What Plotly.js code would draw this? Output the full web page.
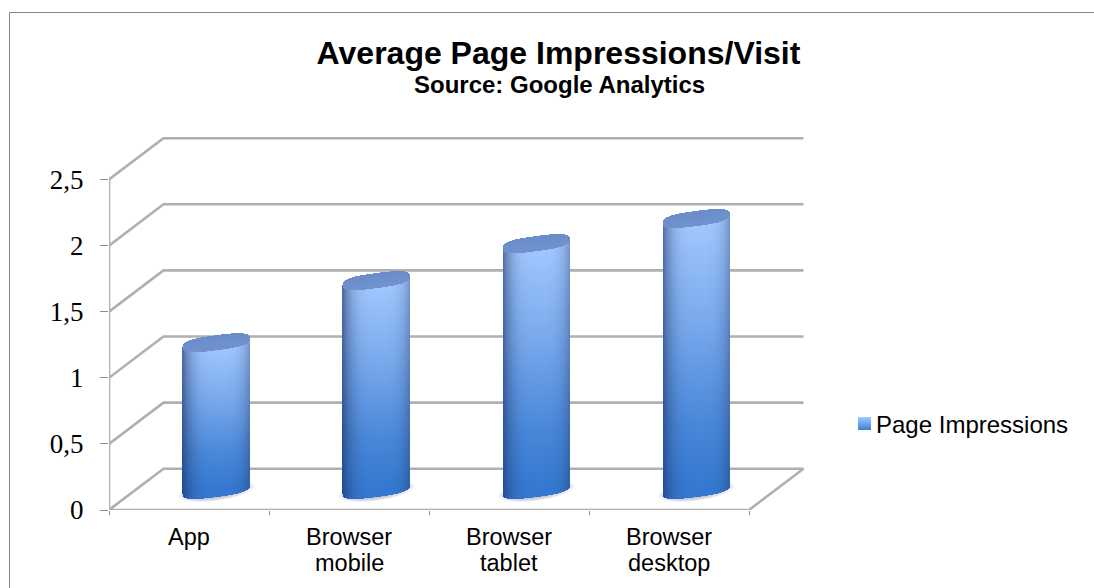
<!DOCTYPE html>
<html>
<head>
<meta charset="utf-8">
<script src="https://cdn.plot.ly/plotly-3.0.1.min.js"></script>
<style>
html,body{margin:0;padding:0;background:#fff}
#chart{width:1094px;height:588px}
/* Legend swatch: gradient fill, seated close to its text */
.legend .legendpoints path{
  fill:url(#swatch-blue) !important;
  d:path("M6.5,6.5H-6.5V-6.5H6.5Z");
  transform:translate(28.5px,0);
}
</style>
</head>
<body>
<svg width="0" height="0" style="position:absolute"><defs>
  <linearGradient id="swatch-blue" x1="0" y1="0" x2="0" y2="1">
    <stop offset="0" stop-color="#a3c9ff"/><stop offset="1" stop-color="#3a7fd6"/>
  </linearGradient>
</defs></svg>
<div id="chart"></div>
<script>
// Average page impressions per visit, by access channel
const categories = ['App', 'Browser<br>mobile', 'Browser<br>tablet', 'Browser<br>desktop'];
const impressions = [1.11, 1.58, 1.86, 2.05];
const yTickVals = [0, 0.5, 1, 1.5, 2, 2.5];
const yTickText = ['0', '0,5', '1', '1,5', '2', '2,5'];
const seriesName = 'Page Impressions';

// Pixel layout of the pseudo-3D box
const W = 1094, H = 588;
const M = {l: 109, r: 287, t: 137, b: 78};
const PX_PER_X = 160, PX_PER_Y = 132.2;
const plotW = W - M.l - M.r, plotH = H - M.t - M.b;
const xMax = plotW / PX_PER_X, yMax = plotH / PX_PER_Y;
const depthX = 54.5 / PX_PER_X, depthY = 41.3 / PX_PER_Y;
const halfW = 33.8 / PX_PER_X;           // cylinder radius
const capB = 7.6 / PX_PER_Y;             // cap half height
const capS = 4.4 / PX_PER_Y;             // cap tilt
const ROUND = 2.8;                       // exponent of the cap outline
const nCat = categories.length;
const pxX = px => (px - M.l) / plotW;
const pxY = px => 1 - (px - M.t) / plotH;

const GRID = '#b0b0b0';
const lineTrace = (x, y, width) => ({
  type: 'scatter', mode: 'lines', x, y, showlegend: false, hoverinfo: 'skip',
  cliponaxis: false, line: {color: GRID, width: width || 2.6}
});

const traces = [];

// Walls and floor outline
yTickVals.forEach(v => {
  traces.push(lineTrace([0, depthX, nCat + depthX], [v, v + depthY, v + depthY]));
});
traces.push(lineTrace([0, 0], [0, 2.5]));
traces.push(lineTrace([0, nCat, nCat + depthX], [0, 0, depthY]));

// Data bars sit in the middle of the floor depth; the cylinder shading covers them
traces.push({
  type: 'bar', name: seriesName, showlegend: true,
  x: categories.map((c, i) => i + 0.5 + depthX / 2),
  y: impressions,
  base: categories.map(() => depthY / 2),
  width: halfW * 2 * 0.72,
  marker: {color: '#6f9fe4'},
  hoverinfo: 'skip'
});

// Shaded cylinder layers on the overlay subplot
const blue = [[0, '#3478d0'], [0.25, '#4a88d9'], [0.6, '#78a8ec'], [1, '#a3c9ff']];
const edge = [[0, 'rgba(24,44,90,0)'], [1, 'rgba(24,44,90,0.6)']];
const glow = [[0, 'rgba(70,90,130,0)'], [1, 'rgba(70,90,130,0.6)']];
const capColor = [[0, '#7093cf'], [1, '#6a8cc8']];
const dxCell = 1 / PX_PER_X, dyCell = 1 / PX_PER_Y;

function layer(x0, y0, z, colorscale, zmin, zmax) {
  return {
    type: 'heatmap', xaxis: 'x2', yaxis: 'y2', x0, dx: dxCell, y0, dy: dyCell, z,
    colorscale, zmin, zmax, showscale: false, hoverinfo: 'skip', zsmooth: false
  };
}

impressions.forEach((v, i) => {
  const xc = i + 0.5 + depthX / 2, yb = depthY / 2, yt = yb + v;
  const pad = 8 * dxCell;
  const x0 = xc - halfW - pad, y0 = yb - capB - capS - 8 * dyCell;
  const nx = Math.round((2 * halfW + 2 * pad) / dxCell);
  const ny = Math.round((yt + capB + capS + 4 * dyCell - y0) / dyCell);
  const zBody = [], zEdge = [], zCap = [], zGlow = [];
  for (let r = 0; r < ny; r++) {
    const y = y0 + r * dyCell;
    const rowB = [], rowE = [], rowC = [], rowG = [];
    for (let c = 0; c < nx; c++) {
      const x = x0 + c * dxCell;
      const u = (x - xc) / halfW;
      const inside = Math.abs(u) <= 1;
      const arc = inside ? Math.pow(1 - Math.pow(Math.abs(u), ROUND), 1 / ROUND) : 0;
      const lo = yb + capS * u - capB * arc, hi = yt + capS * u + capB * arc;
      const inBody = inside && y >= lo && y <= hi;
      const inCap = inside && Math.abs(y - (yt + capS * u)) <= capB * arc;
      rowB.push(inBody ? Math.min(1, Math.max(0, (y - yb) / v)) : null);
      rowE.push(inBody ? Math.pow(Math.abs(u - 0.08) / 1.08, 3.6) : null);
      rowC.push(inCap ? (y - (yt + capS * u)) / (capB * 2) + 0.5 : null);
      // soft shadow hugging the base of the cylinder
      const uG = (x - xc) / (halfW * 1.16);
      const dG = uG * uG + Math.pow((y - (yb + capS * u - 1.5 * dyCell)) / (capB * 1.35), 2);
      rowG.push(y < yb + capS * u + 2 * dyCell && dG < 1 ? 1 - dG : null);
    }
    zBody.push(rowB); zEdge.push(rowE); zCap.push(rowC); zGlow.push(rowG);
  }
  traces.push(layer(x0, y0, zGlow, glow, 0, 1));
  traces.push(layer(x0, y0, zBody, blue, 0, 1));
  traces.push(layer(x0, y0, zEdge, edge, 0, 1));
  traces.push(layer(x0, y0, zCap, capColor, 0, 1));
});

// Category labels, one annotation per text line for the tight line spacing
const LABEL_SIZE = 23.5;
const labelLines = [];
categories.forEach((c, i) => {
  c.split('<br>').forEach((t, k) => {
    labelLines.push({
      text: t, xref: 'x', x: i + 0.5, yref: 'paper', y: pxY(537 + 26 * k),
      xanchor: 'center', yanchor: 'middle', showarrow: false,
      font: {size: LABEL_SIZE, color: '#000'}
    });
  });
});

const layout = {
  width: W, height: H,
  margin: {l: M.l, r: M.r, t: M.t, b: M.b, autoexpand: false},
  paper_bgcolor: '#fff', plot_bgcolor: 'rgba(0,0,0,0)',
  font: {family: '"Liberation Sans", Arial, sans-serif', color: '#000'},
  title: {
    text: '<b>Average Page Impressions/Visit</b>',
    font: {size: 32, color: '#000'},
    x: 558.5 / W, xref: 'container', xanchor: 'center',
    y: 1 - 53 / H, yref: 'container', yanchor: 'middle', automargin: false
  },
  annotations: [{
    text: '<b>Source: Google Analytics</b>', xref: 'paper', yref: 'paper',
    x: pxX(559), y: pxY(85), xanchor: 'center', yanchor: 'middle', showarrow: false,
    font: {size: 24, color: '#000'}
  }].concat(labelLines),
  xaxis: {
    range: [0, xMax], tickmode: 'array',
    tickvals: [0, 1, 2, 3, 4], ticktext: ['', '', '', '', ''],
    ticks: 'outside', ticklen: 4, tickwidth: 1, tickcolor: '#8c8c8c',
    showgrid: false, zeroline: false, showline: false, fixedrange: true
  },
  yaxis: {
    range: [0, yMax], tickmode: 'array', tickvals: yTickVals, ticktext: yTickText,
    ticks: 'outside', ticklen: 8, tickwidth: 1, tickcolor: '#8c8c8c',
    ticklabelstandoff: 11,
    tickfont: {family: '"Liberation Serif", serif', size: 27, color: '#000'},
    showgrid: false, zeroline: false, showline: false, fixedrange: true
  },
  xaxis2: {
    overlaying: 'x', range: [0, xMax], showticklabels: false, ticks: '',
    showgrid: false, zeroline: false, showline: false, fixedrange: true
  },
  yaxis2: {
    overlaying: 'y', range: [0, yMax], showticklabels: false, ticks: '',
    showgrid: false, zeroline: false, showline: false, fixedrange: true
  },
  legend: {
    x: pxX(836), y: pxY(424), xanchor: 'left', yanchor: 'middle',
    bgcolor: 'rgba(0,0,0,0)', font: {size: 24, color: '#000'}
  },
  shapes: [{
    type: 'path', xref: 'paper', yref: 'paper', line: {color: '#858585', width: 1},
    path: `M ${pxX(9.5)} ${pxY(H)} L ${pxX(9.5)} ${pxY(12.5)} L ${pxX(W)} ${pxY(12.5)}`
  }]
};

Plotly.newPlot('chart', traces, layout, {displayModeBar: false, staticPlot: true});
</script>
</body>
</html>
